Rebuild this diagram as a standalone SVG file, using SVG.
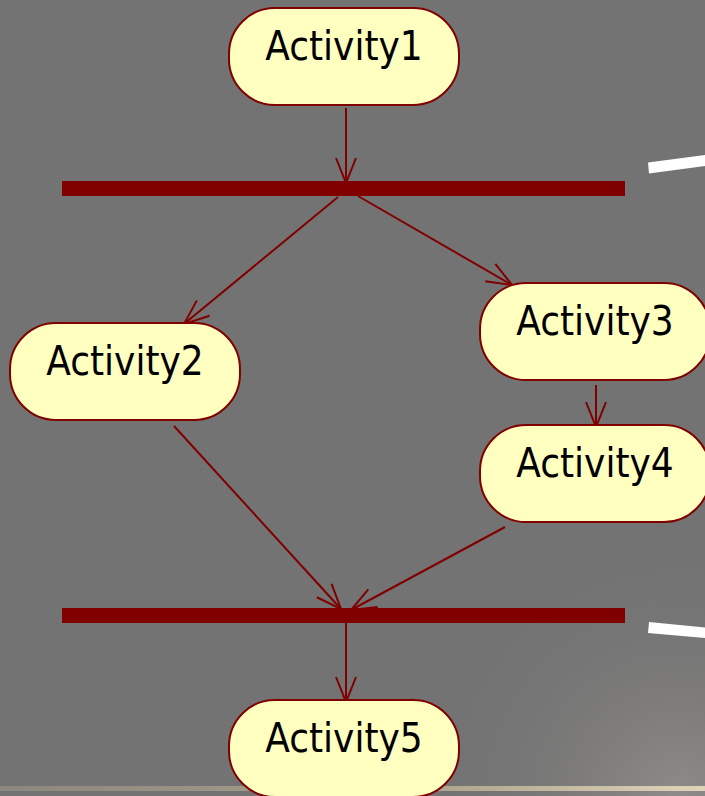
<svg xmlns="http://www.w3.org/2000/svg" width="705" height="796" viewBox="0 0 705 796">
<style>
.node rect{fill:#FFFFC0;stroke:#800000;stroke-width:2}
.node text{font-family:"DejaVu Sans Condensed","DejaVu Sans",sans-serif;font-stretch:condensed;font-size:40px;fill:#000;text-anchor:middle}
.bar{fill:#800000}
#connectors line{stroke:#800000;stroke-width:2;fill:none}
</style>
<defs>
<marker id="arr" viewBox="-27 -12 30 24" refX="0" refY="0" markerWidth="30" markerHeight="24" markerUnits="userSpaceOnUse" orient="auto">
<path d="M-25,-10 L0,0 L-25,10" fill="none" stroke="#800000" stroke-width="2"/>
</marker>
<radialGradient id="bgl" cx="680" cy="800" r="260" gradientUnits="userSpaceOnUse">
<stop offset="0" stop-color="#8e8c89"/>
<stop offset="1" stop-color="#737373" stop-opacity="0"/>
</radialGradient>
<linearGradient id="glow" x1="0" y1="0" x2="705" y2="0" gradientUnits="userSpaceOnUse">
<stop offset="0" stop-color="#c8b89a" stop-opacity="0.3"/>
<stop offset="0.6" stop-color="#e8d2a8" stop-opacity="0.5"/>
<stop offset="1" stop-color="#f5e6c8" stop-opacity="0.8"/>
</linearGradient>
</defs>
<rect x="0" y="0" width="705" height="796" fill="#737373"/>
<rect x="0" y="500" width="705" height="296" fill="url(#bgl)"/>
<rect x="0" y="786" width="705" height="5" fill="url(#glow)"/>
<polygon points="648,162.5 705,155 705,166 649,173.5" fill="#ffffff"/>
<polygon points="649,622 705,627.5 705,638 648,633" fill="#ffffff"/>
<rect class="bar" id="fork" x="62" y="181" width="563" height="15"/>
<rect class="bar" id="join" x="62" y="608" width="563" height="15"/>
<g id="connectors">
<line x1="346" y1="108" x2="346" y2="183" marker-end="url(#arr)"/>
<line x1="338" y1="197" x2="184" y2="324" marker-end="url(#arr)"/>
<line x1="358" y1="196" x2="512" y2="285" marker-end="url(#arr)"/>
<line x1="596" y1="385" x2="596" y2="427" marker-end="url(#arr)"/>
<line x1="174" y1="426" x2="341" y2="609" marker-end="url(#arr)"/>
<line x1="505" y1="527" x2="351" y2="610" marker-end="url(#arr)"/>
<line x1="346" y1="623" x2="346" y2="702" marker-end="url(#arr)"/>
</g>
<g id="activity1" class="node"><rect x="229" y="8" width="230" height="97" rx="46" ry="46"/><text x="344" y="60">Activity1</text></g>
<g id="activity2" class="node"><rect x="10" y="323" width="230" height="97" rx="46" ry="46"/><text x="125" y="375">Activity2</text></g>
<g id="activity3" class="node"><rect x="480" y="283" width="230" height="97" rx="46" ry="46"/><text x="595" y="335">Activity3</text></g>
<g id="activity4" class="node"><rect x="480" y="425" width="230" height="97" rx="46" ry="46"/><text x="595" y="477">Activity4</text></g>
<g id="activity5" class="node"><rect x="229" y="700" width="230" height="97" rx="46" ry="46"/><text x="344" y="752">Activity5</text></g>
</svg>
